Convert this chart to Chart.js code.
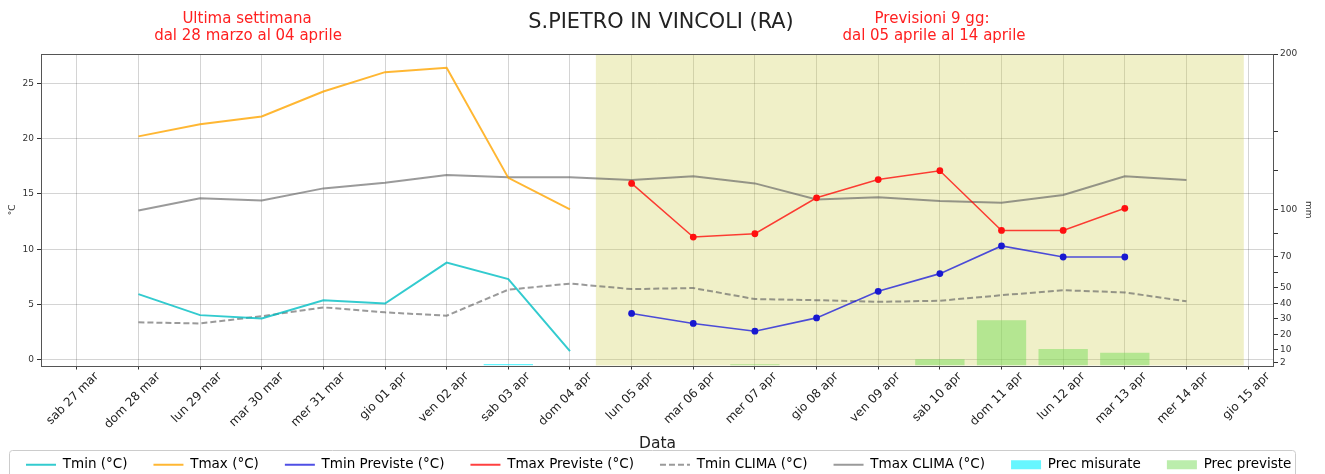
<!DOCTYPE html>
<html lang="it">
<head>
<meta charset="utf-8">
<title>S.PIETRO IN VINCOLI (RA)</title>
<script src="https://cdn.jsdelivr.net/npm/chart.js@4.4.1/dist/chart.umd.min.js"></script>
<style>
    html, body { margin: 0; padding: 0; background: #ffffff; }
    #contenitore { width: 1325px; height: 474px; }
</style>
</head>
<body>
<div id="contenitore">
    <canvas id="grafico-meteo" width="1325" height="474"></canvas>
</div>
<script>
const giorni = [
    'sab 27 mar', 'dom 28 mar', 'lun 29 mar', 'mar 30 mar', 'mer 31 mar',
    'gio 01 apr', 'ven 02 apr', 'sab 03 apr', 'dom 04 apr', 'lun 05 apr',
    'mar 06 apr', 'mer 07 apr', 'gio 08 apr', 'ven 09 apr', 'sab 10 apr',
    'dom 11 apr', 'lun 12 apr', 'mar 13 apr', 'mer 14 apr', 'gio 15 apr'
];

// temperature misurate (ultima settimana)
const tmin = [null, 5.95, 4.05, 3.75, 5.4, 5.1, 8.8, 7.3, 0.8, null, null, null, null, null, null, null, null, null, null, null];
const tmax = [null, 20.2, 21.3, 22.0, 24.25, 26.0, 26.4, 16.45, 13.6, null, null, null, null, null, null, null, null, null, null, null];

// previsioni
const tminPreviste = [null, null, null, null, null, null, null, null, null, 4.2, 3.3, 2.6, 3.8, 6.2, 7.8, 10.3, 9.3, 9.3, null, null];
const tmaxPreviste = [null, null, null, null, null, null, null, null, null, 15.95, 11.1, 11.4, 14.65, 16.3, 17.1, 11.7, 11.7, 13.7, null, null];

// clima
const tminClima = [null, 3.4, 3.3, 3.95, 4.75, 4.3, 4.0, 6.35, 6.9, 6.4, 6.5, 5.5, 5.4, 5.25, 5.35, 5.85, 6.3, 6.1, 5.3, null];
const tmaxClima = [null, 13.5, 14.6, 14.4, 15.5, 16.0, 16.7, 16.5, 16.5, 16.25, 16.6, 15.95, 14.5, 14.7, 14.35, 14.2, 14.9, 16.6, 16.25, null];

// precipitazioni (mm)
const precMisurate = [null, 0, 0, 0, 0, 0, 0, 1, 0, null, null, null, null, null, null, null, null, null, null, null];
const precPreviste = [null, null, null, null, null, null, null, null, null, 0, 0, 0.8, 0, 0, 4, 29, 10.6, 8.2, 0, null];

const tickTemperatura = [0, 5, 10, 15, 20, 25];
const tickPrecipitazioni = [2, 10, 20, 30, 40, 50, 70, 100, 200];
const tickMinoriPrec = [60, 85, 125, 150];

const inizioPrevisioni = 8.42;
const finePrevisioni = 18.93;

const titolo = 'S.PIETRO IN VINCOLI (RA)';
const notaSinistra = ['Ultima settimana', 'dal 28 marzo al 04 aprile'];
const notaDestra = ['Previsioni 9 gg:', 'dal 05 aprile al 14 aprile'];

function punti(serie) {
    return serie.map((valore, i) => ({ x: i, y: valore }));
}

Chart.defaults.font.family = '"DejaVu Sans", sans-serif';
Chart.defaults.color = '#222';

// altezza fissa per la legenda
const altezzaLegenda = {
    id: 'altezzaLegenda',
    afterInit(chart) {
        const legenda = chart.legend;
        if (!legenda) return;
        const fitOriginale = legenda.fit;
        legenda.fit = function () {
            fitOriginale.call(this);
            this.height = 42;
        };
    }
};

const sfondoPrevisioni = {
    id: 'sfondoPrevisioni',
    beforeDatasetsDraw(chart) {
        const { ctx, chartArea, scales } = chart;
        const x1 = scales.x.getPixelForValue(inizioPrevisioni);
        const x2 = scales.x.getPixelForValue(finePrevisioni);
        ctx.save();
        ctx.fillStyle = 'rgba(205, 205, 72, 0.3)';
        ctx.fillRect(x1, chartArea.top, x2 - x1, chartArea.bottom - chartArea.top);
        ctx.restore();
    }
};

const cornice = {
    id: 'cornice',
    afterDraw(chart) {
        const { ctx, chartArea } = chart;
        ctx.save();

        // bordo del grafico
        ctx.strokeStyle = '#555';
        ctx.lineWidth = 1;
        ctx.strokeRect(
            Math.round(chartArea.left) + 0.5,
            Math.round(chartArea.top) + 0.5,
            Math.round(chartArea.right - chartArea.left) - 1,
            Math.round(chartArea.bottom - chartArea.top)
        );

        // bordo della legenda
        const boxes = chart.legend.legendHitBoxes;
        if (boxes && boxes.length) {
            const primo = boxes[0];
            const ultimo = boxes[boxes.length - 1];
            const sx = primo.left - 17;
            const dx = ultimo.left + ultimo.width + 4;
            const top = primo.top - 8;
            ctx.strokeStyle = '#cccccc';
            ctx.beginPath();
            ctx.roundRect(Math.round(sx) + 0.5, Math.round(top) + 0.5, Math.round(dx - sx), 40, 3);
            ctx.stroke();
        }

        // titolo e note
        ctx.textAlign = 'center';
        ctx.textBaseline = 'alphabetic';
        ctx.fillStyle = '#222';
        ctx.font = '20.8px "DejaVu Sans"';
        ctx.fillText(titolo, 661, 28);

        ctx.fillStyle = '#ff2020';
        ctx.font = '15px "DejaVu Sans"';
        ctx.fillText(notaSinistra[0], 247, 23);
        ctx.fillText(notaSinistra[1], 248, 40);
        ctx.fillText(notaDestra[0], 932, 23);
        ctx.fillText(notaDestra[1], 934, 40);

        ctx.restore();
    }
};

const coloreGriglia = 'rgba(0, 0, 0, 0.17)';

const canvas = document.getElementById('grafico-meteo');

const grafico = new Chart(canvas, {
    type: 'line',
    data: {
        datasets: [
            {
                label: 'Tmin (°C)',
                data: punti(tmin),
                borderColor: 'rgba(0, 190, 195, 0.8)',
                backgroundColor: 'rgba(0, 190, 195, 0.8)',
                borderWidth: 2,
                pointRadius: 0,
                yAxisID: 'y'
            },
            {
                label: 'Tmax (°C)',
                data: punti(tmax),
                borderColor: 'rgba(255, 165, 0, 0.8)',
                backgroundColor: 'rgba(255, 165, 0, 0.8)',
                borderWidth: 2,
                pointRadius: 0,
                yAxisID: 'y'
            },
            {
                label: 'Tmin Previste (°C)',
                data: punti(tminPreviste),
                borderColor: 'rgba(20, 20, 220, 0.75)',
                backgroundColor: '#1818d0',
                pointBackgroundColor: '#1818d0',
                pointBorderWidth: 0,
                pointRadius: 3.4,
                borderWidth: 1.6,
                yAxisID: 'y'
            },
            {
                label: 'Tmax Previste (°C)',
                data: punti(tmaxPreviste),
                borderColor: 'rgba(255, 0, 0, 0.75)',
                backgroundColor: '#ff1010',
                pointBackgroundColor: '#ff1010',
                pointBorderWidth: 0,
                pointRadius: 3.4,
                borderWidth: 1.5,
                yAxisID: 'y'
            },
            {
                label: 'Tmin CLIMA (°C)',
                data: punti(tminClima),
                borderColor: 'rgba(100, 100, 100, 0.65)',
                backgroundColor: 'rgba(100, 100, 100, 0.65)',
                borderDash: [6, 3],
                borderWidth: 2,
                pointRadius: 0,
                yAxisID: 'y'
            },
            {
                label: 'Tmax CLIMA (°C)',
                data: punti(tmaxClima),
                borderColor: 'rgba(100, 100, 100, 0.65)',
                backgroundColor: 'rgba(100, 100, 100, 0.65)',
                borderWidth: 2,
                pointRadius: 0,
                yAxisID: 'y'
            },
            {
                type: 'bar',
                label: 'Prec misurate',
                data: punti(precMisurate),
                backgroundColor: 'rgba(0, 240, 255, 0.6)',
                barPercentage: 0.8,
                categoryPercentage: 1,
                grouped: false,
                yAxisID: 'y1'
            },
            {
                type: 'bar',
                label: 'Prec previste',
                data: punti(precPreviste),
                backgroundColor: 'rgba(120, 220, 90, 0.5)',
                barPercentage: 0.8,
                categoryPercentage: 1,
                grouped: false,
                yAxisID: 'y1'
            }
        ]
    },
    options: {
        responsive: false,
        animation: false,
        layout: {
            padding: { top: 54, left: 0, right: 0, bottom: 0 }
        },
        plugins: {
            tooltip: { enabled: false },
            legend: {
                position: 'bottom',
                align: 'start',
                labels: {
                    usePointStyle: true,
                    pointStyleWidth: 30,
                    boxHeight: 9,
                    padding: 26,
                    color: '#222',
                    font: { size: 13.5 },
                    generateLabels: (chart) => chart.data.datasets.map((ds, i) => ({
                        text: ds.label,
                        datasetIndex: i,
                        fillStyle: ds.backgroundColor,
                        strokeStyle: ds.type === 'bar' ? 'rgba(0,0,0,0)' : ds.borderColor,
                        lineWidth: ds.type === 'bar' ? 0 : 2,
                        lineDash: ds.borderDash || [],
                        pointStyle: ds.type === 'bar' ? 'rect' : 'line',
                        hidden: false
                    }))
                }
            }
        },
        scales: {
            x: {
                type: 'linear',
                min: -0.58,
                max: 19.42,
                offset: false,
                afterBuildTicks: (scala) => {
                    scala.ticks = giorni.map((g, i) => ({ value: i }));
                },
                afterFit: (scala) => {
                    scala.height = 66.5;
                },
                ticks: {
                    callback: (valore) => giorni[valore] ?? '',
                    autoSkip: false,
                    minRotation: 45,
                    maxRotation: 45,
                    padding: 0,
                    labelOffset: 20,
                    color: '#222',
                    font: { size: 12 }
                },
                grid: {
                    color: coloreGriglia,
                    tickColor: '#333',
                    tickLength: 4,
                    offset: false
                },
                border: { display: false },
                title: {
                    display: true,
                    text: 'Data',
                    color: '#222',
                    font: { size: 15.5 },
                    padding: { top: 0, bottom: -21 }
                }
            },
            y: {
                position: 'left',
                min: -0.5,
                max: 27.64,
                afterBuildTicks: (scala) => {
                    scala.ticks = tickTemperatura.map(v => ({ value: v }));
                },
                afterFit: (scala) => {
                    scala.width = 41;
                },
                ticks: {
                    color: '#333',
                    padding: 3,
                    font: { size: 9 }
                },
                grid: {
                    color: coloreGriglia,
                    tickColor: '#333',
                    tickLength: 4
                },
                border: { display: false },
                title: {
                    display: true,
                    text: '°C',
                    color: '#333',
                    font: { size: 9 },
                    padding: { top: 7, bottom: 0 }
                }
            },
            y1: {
                position: 'right',
                min: 0,
                max: 200,
                afterBuildTicks: (scala) => {
                    scala.ticks = [...tickPrecipitazioni, ...tickMinoriPrec]
                        .sort((a, b) => a - b)
                        .map(v => ({ value: v }));
                },
                afterFit: (scala) => {
                    scala.width = 51;
                },
                ticks: {
                    callback: (valore) => tickPrecipitazioni.includes(valore) ? valore : '',
                    autoSkip: false,
                    color: '#333',
                    padding: 2,
                    font: { size: 9 }
                },
                grid: {
                    drawOnChartArea: false,
                    tickColor: '#333',
                    tickLength: 4
                },
                border: { display: false },
                title: {
                    display: true,
                    text: 'mm',
                    color: '#333',
                    font: { size: 9 },
                    padding: { top: 11, bottom: 0 }
                }
            }
        }
    },
    plugins: [altezzaLegenda, sfondoPrevisioni, cornice]
});
</script>
</body>
</html>
